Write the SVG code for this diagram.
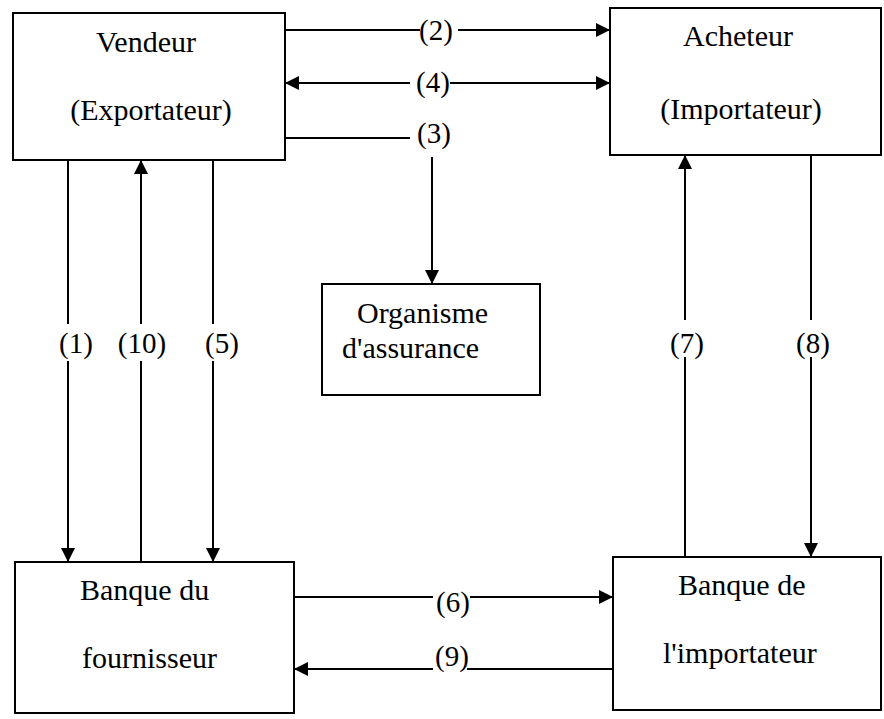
<svg xmlns="http://www.w3.org/2000/svg" width="884" height="719" viewBox="0 0 884 719">
<defs>
<marker id="ah" markerUnits="userSpaceOnUse" markerWidth="14" markerHeight="14" refX="13" refY="7" orient="auto-start-reverse">
<path d="M0,0 L14,7 L0,14 z" fill="#000"/>
</marker>
<style>
.box{fill:#fff;stroke:#000;stroke-width:2}
.t{font-size:30px;fill:#000}
.l{font-size:29px;fill:#000;text-anchor:middle}
.c{fill:none;stroke:#000;stroke-width:2}
.m{text-anchor:middle}
</style>
</defs>
<rect width="884" height="719" fill="#fff"/>
<g id="connectors" font-family="Liberation Serif, Times New Roman, DejaVu Serif, serif">
<path class="c" d="M278 30 H420 M458 30 H609" marker-end="url(#ah)"/>
<path class="c" d="M286 83 H410 M450 83 H609" marker-start="url(#ah)" marker-end="url(#ah)"/>
<path class="c" d="M285 138 H410"/>
<path class="c" d="M432 157 V283" marker-end="url(#ah)"/>
<path class="c" d="M68 160 V324 M68 361 V561" marker-end="url(#ah)"/>
<path class="c" d="M141 562 V361 M141 324 V161" marker-end="url(#ah)"/>
<path class="c" d="M213 160 V324 M213 361 V561" marker-end="url(#ah)"/>
<path class="c" d="M685 557 V357 M685 320 V156" marker-end="url(#ah)"/>
<path class="c" d="M811 155 V320 M811 357 V556" marker-end="url(#ah)"/>
<path class="c" d="M288 597 H433 M470 597 H612" marker-end="url(#ah)"/>
<path class="c" d="M613 669 H467 M433 669 H295" marker-end="url(#ah)"/>
<text class="l" x="436" y="40">(2)</text>
<text class="l" x="433" y="92">(4)</text>
<text class="l" x="434" y="143">(3)</text>
<text class="l" x="76" y="353">(1)</text>
<text class="l" x="142" y="353">(10)</text>
<text class="l" x="222" y="353">(5)</text>
<text class="l" x="687" y="353">(7)</text>
<text class="l" x="813" y="353">(8)</text>
<text class="l" x="453" y="612">(6)</text>
<text class="l" x="452" y="666">(9)</text>
</g>
<g id="vendeur" font-family="Liberation Serif, Times New Roman, DejaVu Serif, serif">
<rect class="box" x="13" y="13" width="272" height="147"/>
<text class="t m" x="146" y="52">Vendeur</text>
<text class="t m" x="151" y="120">(Exportateur)</text>
</g>
<g id="acheteur" font-family="Liberation Serif, Times New Roman, DejaVu Serif, serif">
<rect class="box" x="610" y="8" width="271" height="147"/>
<text class="t m" x="738" y="46">Acheteur</text>
<text class="t m" x="741" y="119">(Importateur)</text>
</g>
<g id="organisme" font-family="Liberation Serif, Times New Roman, DejaVu Serif, serif">
<rect class="box" x="322" y="284" width="218" height="111"/>
<text class="t" x="357" y="323">Organisme</text>
<text class="t" x="342" y="358">d'assurance</text>
</g>
<g id="banque-fournisseur" font-family="Liberation Serif, Times New Roman, DejaVu Serif, serif">
<rect class="box" x="15" y="562" width="279" height="151"/>
<text class="t" x="80" y="600">Banque du</text>
<text class="t" x="82" y="668">fournisseur</text>
</g>
<g id="banque-importateur" font-family="Liberation Serif, Times New Roman, DejaVu Serif, serif">
<rect class="box" x="613" y="557" width="268" height="153"/>
<text class="t" x="678" y="595">Banque de</text>
<text class="t" x="663" y="663">l'importateur</text>
</g>
</svg>
